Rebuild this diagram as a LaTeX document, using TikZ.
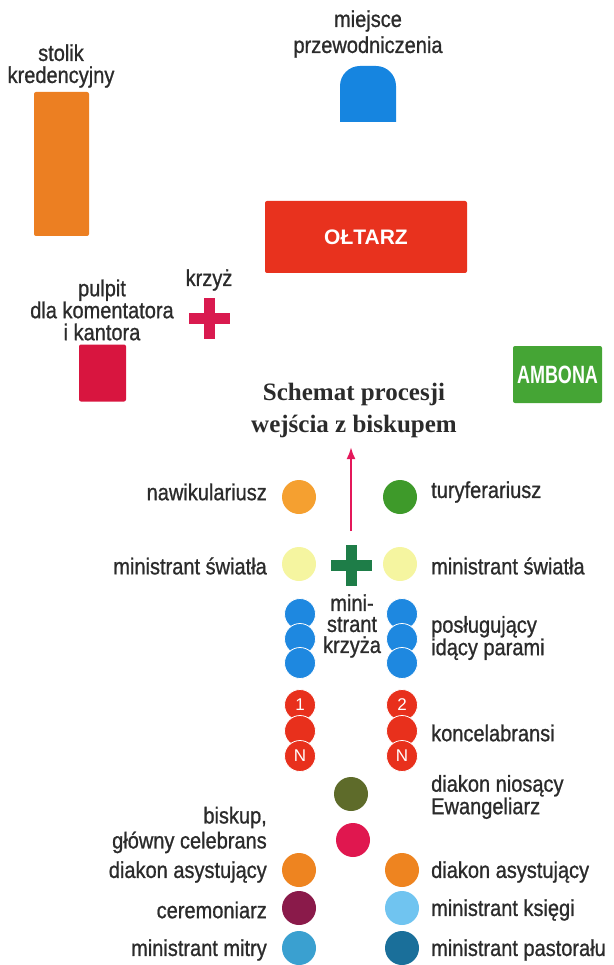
\documentclass[tikz,border=0pt]{standalone}
\usepackage{fontspec}
\setmainfont{Liberation Sans}
\newfontfamily\opisfont{Liberation Sans}[FakeStretch=0.87,FakeBold=0.9]
\newfontfamily\tytul{Liberation Serif}
\usepackage{graphicx}
\usetikzlibrary{arrows.meta}
\usetikzlibrary{positioning}

\definecolor{tekst}{HTML}{2B2B2B}
\definecolor{stolik}{HTML}{EC7F22}
\definecolor{fotel}{HTML}{1685E0}
\definecolor{oltarz}{HTML}{E8321E}
\definecolor{pulpit}{HTML}{D8153F}
\definecolor{krzyz}{HTML}{D91A4F}
\definecolor{ambona}{HTML}{45A535}
\definecolor{strzalka}{HTML}{E4185A}
\definecolor{zielkrzyz}{HTML}{1E7D48}
\definecolor{nawik}{HTML}{F5A030}
\definecolor{tury}{HTML}{3E9A2A}
\definecolor{swiatlo}{HTML}{F5F5A0}
\definecolor{niebieski}{HTML}{1E88E0}
\definecolor{czerwony}{HTML}{E8301C}
\definecolor{oliwka}{HTML}{5E6B2A}
\definecolor{biskup}{HTML}{E0174F}
\definecolor{diakon}{HTML}{EE8420}
\definecolor{ceremon}{HTML}{8A1A4A}
\definecolor{ksiega}{HTML}{70C4F0}
\definecolor{mitra}{HTML}{3AA0D0}
\definecolor{pastoral}{HTML}{1A6F9A}

\tikzset{krzyzyk/.pic={\fill (-20.5,-5.5) rectangle (20.5,5.5); \fill (-5.5,-20.5) rectangle (5.5,20.5);}}

\begin{document}
\begin{tikzpicture}[x=1pt,y=-1pt,
	opis/.style={font=\opisfont\fontsize{23}{22}\selectfont,text=tekst,inner sep=0pt},
	osoba/.style={circle,minimum size=34pt,inner sep=0pt},
	para/.style={circle,minimum size=31pt,inner sep=0pt,draw=white,line width=0.8pt,fill=#1,text=white,font=\fontsize{17}{17}\selectfont},
	mebel/.style={rounded corners=2pt,inner sep=0pt,text=white,font=\bfseries\fontsize{21}{21}\selectfont}]
				\useasboundingbox (0,0) rectangle (613,965);
				% Prezbiterium
				\node[mebel,fill=stolik,minimum width=55pt,minimum height=144pt] (stolikkred) at (61.5,164) {};
				\node[opis,align=center] (stolikopis) at (61,66) {stolik\\kredencyjny};
				\fill[fotel,rounded corners=20pt] (340,122) -- (340,66) -- (396,66) -- (396,122);
				\node[opis,align=center,font=\opisfont\fontsize{23}{26}\selectfont] (fotelopis) at (368,34) {miejsce\\przewodniczenia};
				\node[mebel,fill=oltarz,minimum width=202pt,minimum height=72pt] (oltarz) at (366,237) {OŁTARZ};
				\node[opis] (krzyzopis) at (209,280) {krzyż};
				\pic[krzyz] at (209,318) {krzyzyk};
				\node[opis,align=center] (pulpitopis) at (102,310) {pulpit\\dla komentatora\\i kantora};
				\node[mebel,fill=pulpit,minimum width=47pt,minimum height=57pt] (pulpit) at (102.5,373) {};
				\node[mebel,fill=ambona,minimum width=89pt,minimum height=57pt,font=\bfseries\fontsize{25}{25}\selectfont] (ambona) at (557.5,374.5) {\scalebox{0.72}[1]{AMBONA}};
				\node[font=\tytul\bfseries\fontsize{25}{32}\selectfont,text=tekst,align=center,inner sep=0pt] (tytul) at (354,410) {Schemat procesji\\wejścia z biskupem};
				% Strzałka
				\coordinate (strzalkaA) at (351,531);
				\coordinate (strzalkaB) at (351,447);
				\draw[-{Latex[length=12pt,width=9pt]},line width=2.2pt,strzalka] (strzalkaA) -- (strzalkaB);
				% Procesja
				\node[osoba,fill=nawik] (nawik) at (299,497) {};
				\node[osoba,fill=tury] (tury) at (400,497) {};
				\node[opis,anchor=east] at (267,492) {nawikulariusz};
				\node[opis,anchor=west] at (431,492) {turyferariusz};
				\node[osoba,fill=swiatlo] (swiatloL) at (299,564) {};
				\node[osoba,fill=swiatlo] (swiatloP) at (400,564) {};
				\pic[zielkrzyz] at (351,565) {krzyzyk};
				\node[opis,anchor=east] at (267,566) {ministrant światła};
				\node[opis,anchor=west] at (431,566) {ministrant światła};
				\foreach \y/\n in {614/1,639/2,663/3}{
					\node[para=niebieski] (posL\n) at (300,\y) {};
					\node[para=niebieski] (posP\n) at (402,\y) {};
				}
				\node[opis,align=center,font=\opisfont\fontsize{23}{21}\selectfont] at (352,626) {mini-\\strant\\krzyża};
				\node[opis,align=left,font=\opisfont\fontsize{23}{20}\selectfont,anchor=west] at (431,638) {posługujący\\idący parami};
				\foreach \y/\n/\a/\b in {705/1/1/2,731/2//,756/3/N/N}{
					\node[para=czerwony] (konL\n) at (300,\y) {\a};
					\node[para=czerwony] (konP\n) at (402,\y) {\b};
				}
				\node[opis,anchor=west] at (431,733) {koncelabransi};
				\node[osoba,fill=oliwka] (ewang) at (351,794) {};
				\node[opis,align=left,font=\opisfont\fontsize{23}{20}\selectfont,anchor=west] at (431,797) {diakon niosący\\Ewangeliarz};
				\node[osoba,fill=biskup] (biskup) at (353,840) {};
				\node[opis,align=right,font=\opisfont\fontsize{23}{25}\selectfont,anchor=east] at (267,830) {biskup,\\główny celebrans};
				\node[osoba,fill=diakon] (diakonL) at (299,870) {};
				\node[osoba,fill=diakon] (diakonP) at (402,870) {};
				\node[opis,anchor=east] at (267,872) {diakon asystujący};
				\node[opis,anchor=west] at (431,872) {diakon asystujący};
				\node[osoba,fill=ceremon] (ceremon) at (299,908) {};
				\node[osoba,fill=ksiega] (ksiega) at (402,908) {};
				\node[opis,anchor=east] at (267,910) {ceremoniarz};
				\node[opis,anchor=west] at (431,910) {ministrant księgi};
				\node[osoba,fill=mitra] (mitra) at (299,948) {};
				\node[osoba,fill=pastoral] (pastoral) at (402,948) {};
				\node[opis,anchor=east] at (267,950) {ministrant mitry};
				\node[opis,anchor=west] at (431,950) {ministrant pastorału};
\end{tikzpicture}
\end{document}
